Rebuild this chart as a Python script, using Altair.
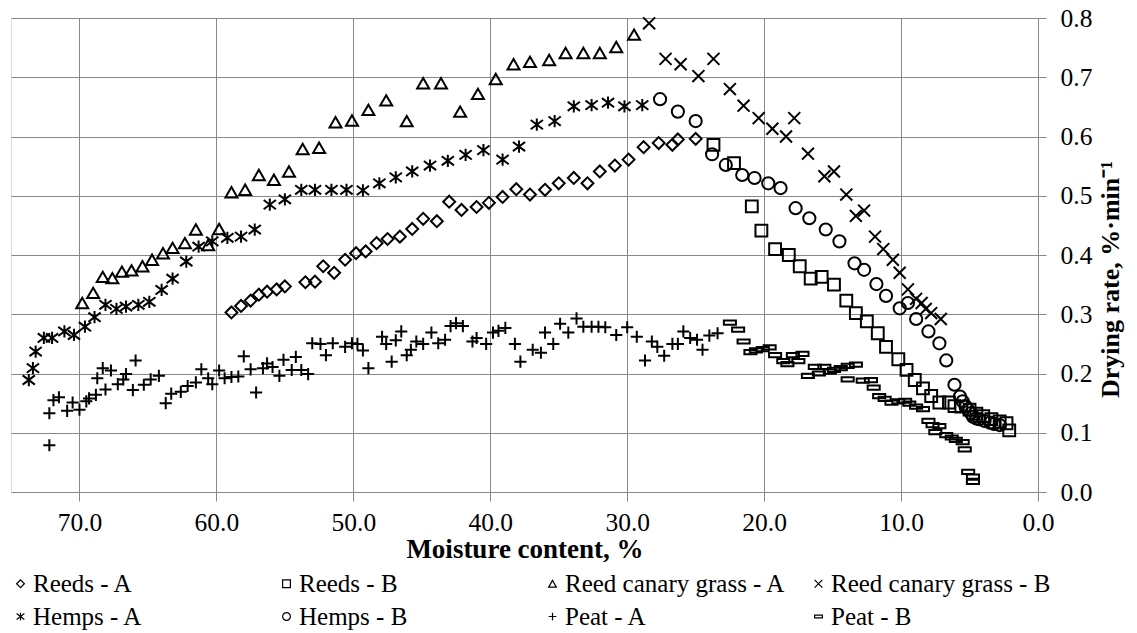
import altair as alt
import pandas as pd

SERIES = ["Reeds - A", "Reeds - B", "Reed canary grass - A", "Reed canary grass - B",
          "Hemps - A", "Hemps - B", "Peat - A", "Peat - B"]

reeds_a_x = [58.9, 58.2, 57.5, 56.9, 56.3, 55.6, 55.0, 53.5, 52.8, 52.2, 51.4, 50.6, 49.8, 49.1,
             48.3, 47.5, 46.6, 45.7, 44.9, 43.9, 43.0, 42.1, 41.0, 40.1, 39.1, 38.1, 37.1, 36.0,
             35.0, 33.9, 32.9, 32.0, 30.9, 29.9, 28.8, 27.7, 26.7, 26.3, 25.0]
reeds_a_y = [0.303, 0.314, 0.323, 0.333, 0.338, 0.342, 0.347, 0.354, 0.355, 0.381, 0.370, 0.392,
             0.403, 0.406, 0.420, 0.427, 0.431, 0.444, 0.461, 0.457, 0.490, 0.476, 0.481, 0.488,
             0.498, 0.511, 0.502, 0.510, 0.521, 0.530, 0.521, 0.541, 0.551, 0.561, 0.582, 0.589,
             0.586, 0.595, 0.596]

reeds_b_x = [23.7, 22.2, 20.9, 20.2, 19.2, 18.2, 17.4, 16.6, 15.8, 14.9, 14.0, 13.3, 12.5, 11.7,
             11.1, 10.2, 9.6, 9.0, 8.4, 7.8, 7.2, 6.5, 6.1, 5.6, 5.0, 4.5, 4.0, 3.4, 2.8, 2.3, 2.1]
reeds_b_y = [0.586, 0.555, 0.482, 0.441, 0.410, 0.400, 0.381, 0.360, 0.363, 0.350, 0.323, 0.302,
             0.288, 0.268, 0.245, 0.224, 0.206, 0.189, 0.175, 0.162, 0.151, 0.151, 0.145, 0.144,
             0.139, 0.132, 0.128, 0.123, 0.119, 0.116, 0.104]

rcg_a_x = [69.8, 69.0, 68.3, 67.6, 66.9, 66.2, 65.4, 64.7, 63.9, 63.2, 62.3, 61.5, 60.6, 59.8,
           58.9, 57.9, 56.9, 55.8, 54.7, 53.7, 52.5, 51.3, 50.1, 48.9, 47.6, 46.1, 44.9, 43.6,
           42.2, 40.9, 39.6, 38.3, 37.1, 35.7, 34.5, 33.2, 32.0, 30.8, 29.5]
rcg_a_y = [0.319, 0.336, 0.363, 0.361, 0.372, 0.374, 0.381, 0.392, 0.403, 0.412, 0.420, 0.443,
           0.417, 0.444, 0.506, 0.510, 0.535, 0.527, 0.541, 0.579, 0.581, 0.624, 0.627, 0.645,
           0.661, 0.626, 0.690, 0.690, 0.642, 0.672, 0.697, 0.722, 0.726, 0.729, 0.741, 0.741,
           0.741, 0.751, 0.772]

rcg_b_x = [28.4, 27.2, 26.1, 24.8, 23.7, 22.5, 21.5, 20.4, 19.4, 18.4, 17.8, 16.8, 15.6, 14.9,
           14.0, 13.3, 12.7, 11.9, 11.3, 10.6, 10.1, 9.5, 8.9, 8.5, 8.2, 7.8, 7.1]
rcg_b_y = [0.791, 0.731, 0.722, 0.702, 0.731, 0.680, 0.652, 0.631, 0.613, 0.600, 0.631, 0.571,
           0.533, 0.541, 0.502, 0.466, 0.475, 0.431, 0.410, 0.392, 0.370, 0.342, 0.326, 0.319,
           0.309, 0.302, 0.292]

hemps_a_x = [73.7, 73.4, 73.2, 72.6, 72.0, 71.1, 70.4, 69.6, 68.9, 68.1, 67.3, 66.6, 65.7, 64.9,
             64.0, 63.2, 62.2, 61.3, 60.3, 59.2, 58.2, 57.2, 56.1, 55.0, 53.8, 52.8, 51.6, 50.5,
             49.3, 48.1, 46.9, 45.7, 44.4, 43.1, 41.8, 40.5, 39.1, 37.9, 36.6, 35.3, 33.9, 32.6,
             31.4, 30.2, 28.9]
hemps_a_y = [0.189, 0.209, 0.237, 0.260, 0.260, 0.271, 0.265, 0.279, 0.295, 0.316, 0.309, 0.313,
             0.316, 0.321, 0.341, 0.360, 0.389, 0.414, 0.423, 0.429, 0.431, 0.443, 0.485, 0.494,
             0.510, 0.510, 0.510, 0.510, 0.509, 0.521, 0.531, 0.541, 0.551, 0.559, 0.569, 0.577,
             0.561, 0.583, 0.620, 0.626, 0.651, 0.653, 0.657, 0.651, 0.653]

hemps_b_x = [27.6, 26.3, 25.0, 23.8, 22.8, 21.6, 20.7, 19.7, 18.8, 17.7, 16.7, 15.5, 14.5, 13.4,
             12.7, 11.8, 11.1, 10.1, 9.5, 8.9, 8.0, 7.2, 6.7, 6.1, 5.7, 5.5, 5.3, 5.1, 4.9, 4.75,
             4.5, 4.3, 3.9, 3.5, 3.2, 2.8]
hemps_b_y = [0.663, 0.642, 0.626, 0.570, 0.552, 0.535, 0.530, 0.521, 0.513, 0.479, 0.462, 0.443,
             0.423, 0.386, 0.375, 0.351, 0.331, 0.310, 0.319, 0.292, 0.271, 0.251, 0.222, 0.181,
             0.161, 0.153, 0.145, 0.139, 0.133, 0.127, 0.124, 0.123, 0.120, 0.117, 0.115, 0.113]

peat_a_x = [72.2, 72.2, 71.9, 71.5, 70.9, 70.5, 70.0, 69.5, 69.3, 68.8, 68.7, 68.3, 68.1, 67.7,
            67.2, 66.8, 66.6, 66.1, 65.9, 65.3, 64.8, 64.2, 63.7, 63.3, 62.6, 62.1, 61.5, 61.1,
            60.6, 60.3, 59.8, 59.4, 58.9, 58.4, 58.0, 57.5, 57.1, 56.6, 56.3, 55.9, 55.4, 55.1,
            54.5, 54.2, 53.8, 53.3, 53.0, 52.4, 52.0, 51.5, 50.6, 50.1, 49.7, 49.3, 48.9, 47.9,
            47.6, 47.2, 46.9, 46.5, 46.1, 45.8, 45.4, 44.9, 44.3, 43.8, 43.3, 42.9, 42.5, 42.0,
            41.3, 41.0, 40.3, 39.8, 39.4, 38.9, 38.2, 37.8, 36.9, 36.3, 36.0, 35.4, 34.9, 34.3,
            33.7, 33.2, 32.6, 32.1, 31.6, 30.8, 30.0, 29.3, 28.7, 28.2, 27.8, 27.3, 26.7, 26.3,
            25.9, 25.4, 24.9, 24.5, 24.0, 23.4]
peat_a_y = [0.079, 0.133, 0.155, 0.160, 0.137, 0.151, 0.139, 0.153, 0.158, 0.164, 0.192, 0.209,
            0.173, 0.205, 0.182, 0.190, 0.199, 0.172, 0.222, 0.181, 0.190, 0.196, 0.150, 0.166,
            0.169, 0.179, 0.185, 0.207, 0.192, 0.182, 0.205, 0.192, 0.194, 0.195, 0.229, 0.207,
            0.168, 0.209, 0.217, 0.211, 0.196, 0.223, 0.206, 0.228, 0.206, 0.199, 0.251, 0.250,
            0.231, 0.251, 0.245, 0.251, 0.250, 0.239, 0.209, 0.262, 0.250, 0.220, 0.256, 0.271,
            0.231, 0.240, 0.254, 0.250, 0.269, 0.251, 0.257, 0.280, 0.285, 0.280, 0.254, 0.260,
            0.250, 0.269, 0.272, 0.277, 0.250, 0.220, 0.240, 0.235, 0.269, 0.250, 0.284, 0.269,
            0.293, 0.279, 0.279, 0.279, 0.278, 0.265, 0.278, 0.262, 0.222, 0.254, 0.245, 0.230,
            0.250, 0.250, 0.271, 0.260, 0.257, 0.240, 0.264, 0.268]

peat_b_x = [22.5, 21.9, 21.5, 21.0, 20.6, 20.1, 19.6, 19.2, 18.6, 18.3, 17.9, 17.2, 17.5, 16.8,
            16.3, 16.0, 15.6, 15.2, 14.9, 14.4, 13.9, 13.3, 13.9, 12.8, 12.2, 12.0, 11.6, 11.2,
            10.7, 10.2, 9.7, 9.4, 8.9, 8.4, 8.0, 7.7, 7.2, 7.5, 6.7, 6.3, 6.0, 5.5, 5.35, 5.1,
            4.75, 4.75]
peat_b_y = [0.286, 0.274, 0.254, 0.236, 0.239, 0.241, 0.244, 0.231, 0.221, 0.216, 0.231, 0.233,
            0.221, 0.196, 0.211, 0.200, 0.211, 0.203, 0.206, 0.209, 0.213, 0.215, 0.190, 0.188,
            0.189, 0.176, 0.162, 0.157, 0.151, 0.153, 0.154, 0.149, 0.144, 0.140, 0.120, 0.113,
            0.111, 0.101, 0.096, 0.092, 0.088, 0.084, 0.072, 0.034, 0.026, 0.017]

X_TICKS = [70, 60, 50, 40, 30, 20, 10, 0]
Y_TICKS = [0.0, 0.1, 0.2, 0.3, 0.4, 0.5, 0.6, 0.7, 0.8]

SHAPES = [
    "diamond",
    "square",
    "triangle-up",
    "M-1,-1L1,1M-1,1L1,-1",
    "M-1,-0.75L1,0.75M-1,0.75L1,-0.75M0,-1L0,1",
    "circle",
    "M-1,0L1,0M0,-1L0,1",
    "M-1,-0.35L1,-0.35L1,0.35L-1,0.35Z",
]
SIZES = [100, 140, 150, 200, 150, 140, 110, 110]
STROKES = [1.8, 2.0, 2.0, 1.9, 2.0, 2.0, 2.0, 1.6]

pairs = [(reeds_a_x, reeds_a_y), (reeds_b_x, reeds_b_y), (rcg_a_x, rcg_a_y), (rcg_b_x, rcg_b_y),
         (hemps_a_x, hemps_a_y), (hemps_b_x, hemps_b_y), (peat_a_x, peat_a_y), (peat_b_x, peat_b_y)]
rows = []
for name, (xs, ys) in zip(SERIES, pairs):
    assert len(xs) == len(ys), name
    for xv, yv in zip(xs, ys):
        rows.append({"series": name, "series_style": name, "moisture": xv, "rate": yv})
df = pd.DataFrame(rows)

# size / stroke scales use a differently ordered domain so their (hidden) legends
# are not merged with the shape legend
STYLE_DOMAIN = sorted(SERIES)
STYLE_SIZES = [SIZES[SERIES.index(s)] for s in STYLE_DOMAIN]
STYLE_STROKES = [STROKES[SERIES.index(s)] for s in STYLE_DOMAIN]

FONT = "Liberation Serif"
GRID = "#878787"

chart = alt.Chart(df).mark_point(filled=False, color="black", opacity=1).encode(
    x=alt.X("moisture:Q",
            scale=alt.Scale(domain=[0, 75], reverse=True, nice=False, zero=False),
            axis=alt.Axis(values=X_TICKS, format=".1f", title="Moisture content, %",
                          grid=True, gridColor=GRID, domainColor=GRID, tickColor=GRID,
                          tickSize=9, labelPadding=9, labelFont=FONT, labelFontSize=25.5,
                          labelColor="black", titleFont=FONT, titleFontSize=27,
                          titleFontWeight="bold", titleColor="black", titlePadding=1,
                          labelFlush=False)),
    y=alt.Y("rate:Q",
            scale=alt.Scale(domain=[0, 0.8], nice=False, zero=True),
            axis=alt.Axis(orient="right", values=Y_TICKS, format=".1f",
                          title="Drying rate, %·min⁻¹",
                          grid=True, gridColor=GRID, domainColor=GRID, tickColor=GRID,
                          tickSize=8, labelPadding=14, labelFont=FONT, labelFontSize=25.5,
                          labelColor="black", titleFont=FONT, titleFontSize=26,
                          titleFontWeight="bold", titleColor="black", titleAngle=270,
                          titleBaseline="top", titlePadding=6, titleY=261,
                          labelFlush=False)),
    shape=alt.Shape("series:N", scale=alt.Scale(domain=SERIES, range=SHAPES),
                    legend=alt.Legend(title=None, orient="none", direction="horizontal",
                                      legendX=-3, legendY=553,
                                      columns=4, gridAlign="all", columnPadding=20,
                                      rowPadding=7, labelFont=FONT, labelFontSize=25,
                                      labelColor="black", labelLimit=400, labelOffset=0,
                                      symbolSize=60, symbolStrokeWidth=1.2,
                                      symbolStrokeColor="black", symbolFillColor="transparent",
                                      padding=0)),
    size=alt.Size("series_style:N", scale=alt.Scale(domain=STYLE_DOMAIN, range=STYLE_SIZES),
                  legend=None),
    strokeWidth=alt.StrokeWidth("series_style:N",
                                scale=alt.Scale(domain=STYLE_DOMAIN, range=STYLE_STROKES),
                                legend=None),
).properties(
    width=1027, height=474,
    padding={"left": 11, "top": 18, "right": 99, "bottom": 141},
    autosize=alt.AutoSizeParams(type="none"),
).configure_view(stroke=None).configure(background="white")

chart.save("out.html", embed_options={"renderer": "svg", "actions": False})
